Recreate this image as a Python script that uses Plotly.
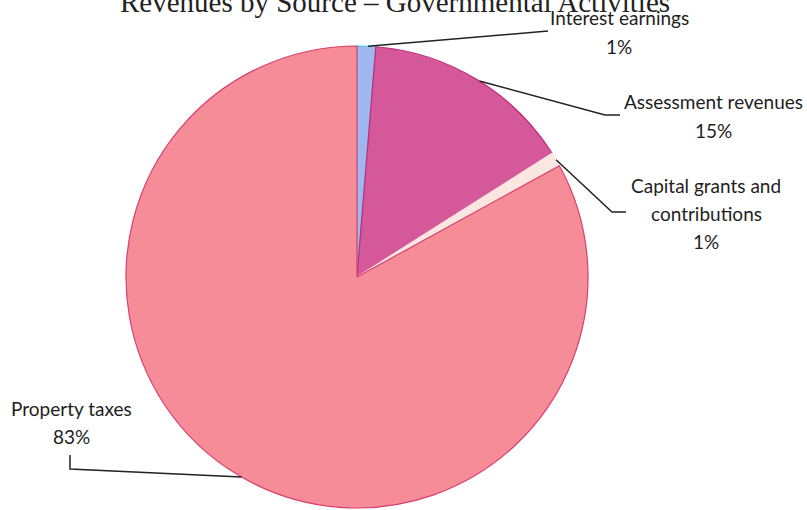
import math
import plotly.graph_objects as go

labels = ["Interest earnings", "Assessment revenues", "Capital grants and contributions", "Property taxes"]
values = [1.3, 14.7, 1.0, 83.0]
colors = ["#9fb6ee", "#d4589a", "#fbe6e2", "#f68c98"]
label_lines = [["Interest earnings"], ["Assessment revenues"], ["Capital grants and", "contributions"], ["Property taxes"]]

W, H = 807, 510
cx, cy, R = 357, 277, 231

fig = go.Figure(go.Pie(
    labels=labels, values=values, sort=False, direction="clockwise", rotation=0,
    marker=dict(colors=colors, line=dict(color=["#3ec8f0", "#c02a78", "#fbe6e2", "#d8406a"], width=1.2)),
    textinfo="none", hoverinfo="label+percent", showlegend=False,
    domain=dict(x=[(cx - R) / W, (cx + R) / W], y=[(H - cy - R) / H, (H - cy + R) / H]),
))

total = sum(values)
pct = [round(v / total * 100) for v in values]

# label placement (pixels): center x, first line y, elbow points, fraction along slice for anchor
label_pos = [
    dict(x=619, y=18, elbow=[(548, 31)], frac=0.58),
    dict(x=713, y=102, elbow=[(605, 115), (620, 115)], frac=0.516),
    dict(x=706, y=185, elbow=[(612, 212), (626, 212)], frac=0.53),
    dict(x=71, y=408, elbow=[(70, 469), (70, 455)], frac=0.498),
]

font = dict(family="Lato, Open Sans, sans-serif", size=19, color="#1e1e1e")
annotations = []
shapes = []
cum = 0.0
for i, v in enumerate(values):
    p = label_pos[i]
    a_start = cum / total * 360
    a_end = (cum + v) / total * 360
    cum += v
    ang = math.radians(a_start + (a_end - a_start) * p["frac"])
    ax = cx + R * math.sin(ang)
    ay = cy - R * math.cos(ang)
    pts = [(ax, ay)] + p["elbow"]
    path = "M " + " L ".join(f"{x / W:.5f},{1 - y / H:.5f}" for x, y in pts)
    shapes.append(dict(type="path", path=path, xref="paper", yref="paper",
                       line=dict(color="#222222", width=1.5)))
    lines = label_lines[i] + [f"{pct[i]}%"]
    for k, t in enumerate(lines):
        annotations.append(dict(text=t, x=p["x"] / W, y=1 - (p["y"] + 28 * k) / H,
                                xref="paper", yref="paper", xanchor="center", yanchor="middle",
                                showarrow=False, font=font))

annotations.append(dict(text="Revenues by Source – Governmental Activities", x=395 / W, y=1 - 2 / H,
                        xref="paper", yref="paper", xanchor="center", yanchor="middle",
                        showarrow=False,
                        font=dict(family="Liberation Serif, Times New Roman, serif", size=29, color="#222222")))

fig.update_layout(width=W, height=H, margin=dict(l=0, r=0, t=0, b=0),
                  paper_bgcolor="white", plot_bgcolor="white",
                  annotations=annotations, shapes=shapes)
fig.write_html("out.html")
